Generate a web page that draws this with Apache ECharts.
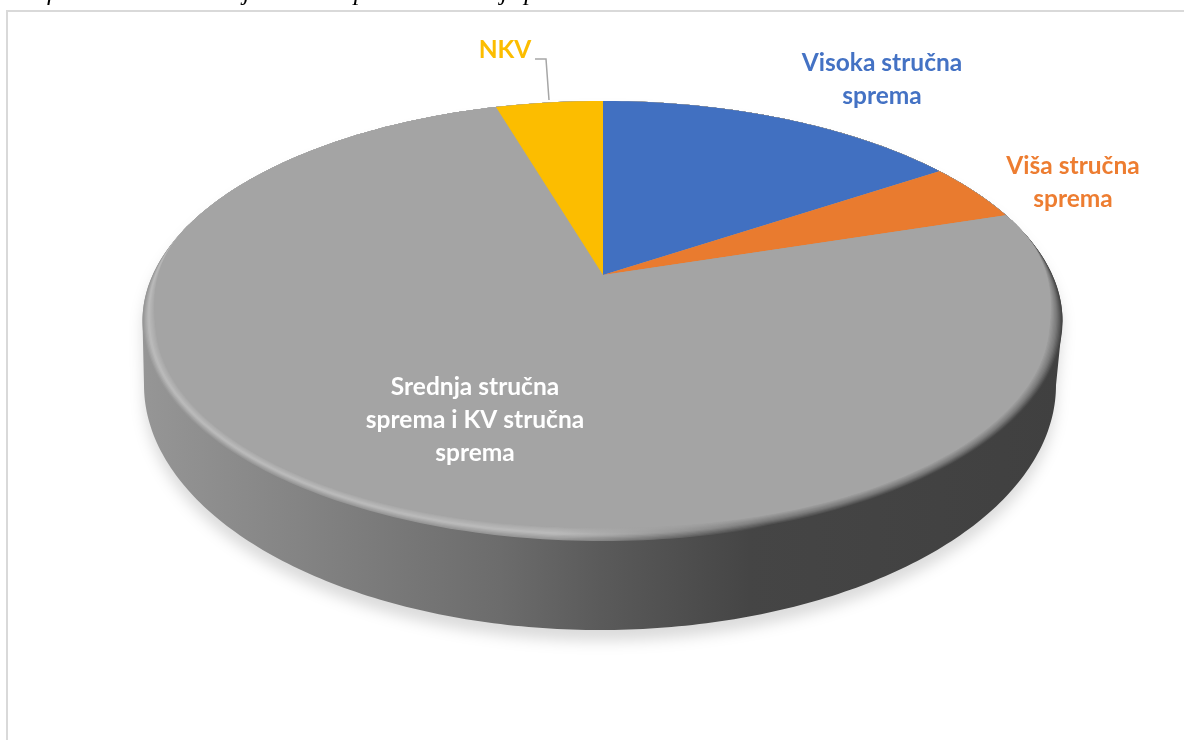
<!DOCTYPE html>
<html>
<head>
<meta charset="utf-8">
<title>Grafikon</title>
<style>
  html, body { margin: 0; padding: 0; background: #fff; }
  #chart { width: 1184px; height: 740px; }
</style>
<script src="https://cdn.jsdelivr.net/npm/echarts@6/dist/echarts.min.js"></script>
</head>
<body>
<div id="chart"></div>
<script>
// values, in percent, clockwise from 12 o'clock
var categories = ['Visoka stručna\nsprema', 'Viša stručna\nsprema', 'Srednja stručna\nsprema i KV stručna\nsprema', 'NKV'];
var shares = [15.7, 4.4, 75.3, 4.6];

var caption = 'Grafikon 1. Obrazovanje radnika prema stručnoj spremi';

var sliceColors = ['#4170c1', '#e97b2f', '#a4a4a4', '#fcbd00'];
var labelColors = ['#4472c4', '#ed7d31', '#ffffff', '#fcbd00'];
var labelSpots = [[882, 80], [1073, 183], [475, 420], [505, 50]];

// disc geometry: the tilted top face and its base, apex is off-centre because of perspective
var face = { cx: 602.5, cy: 321, a: 460, b: 220 };
var base = { cx: 600, cy: 385, a: 456, b: 245 };
var apex = [603, 275];
var tiltX = 450, tiltY = 210;
var rimDepth = 13, rimLayers = 10;

function ellipsePoint(e, ang) {
  return [e.cx + e.a * Math.cos(ang), e.cy + e.b * Math.sin(ang)];
}

function ellipsePoints(e, from, to, n) {
  var pts = [];
  for (var i = 0; i <= n; i++) pts.push(ellipsePoint(e, from + (to - from) * i / n));
  return pts;
}

// where the ray from the apex for pie angle theta meets the face edge,
// pulled inwards by d on the front part only (the bevel fades out towards the back)
function rimPoint(theta, d) {
  var e = face;
  var dx = tiltX * Math.sin(theta), dy = -tiltY * Math.cos(theta);
  var ox = (apex[0] - e.cx) / e.a, oy = (apex[1] - e.cy) / e.b;
  var vx = dx / e.a, vy = dy / e.b;
  var qa = vx * vx + vy * vy, qb = 2 * (ox * vx + oy * vy), qc = ox * ox + oy * oy - 1;
  var t = (-qb + Math.sqrt(qb * qb - 4 * qa * qc)) / (2 * qa);
  var x = apex[0] + t * dx, y = apex[1] + t * dy;
  var w = Math.min(1, Math.max(0, (y - 225) / 110));
  w = w * w * (3 - 2 * w);
  var cx = x - e.cx, cy = y - e.cy, len = Math.sqrt(cx * cx + cy * cy);
  return [x - cx / len * d * w, y - cy / len * d * w];
}

function mix(c1, c2, t) {
  var v = Math.round(c1 + (c2 - c1) * t);
  return 'rgb(' + v + ',' + v + ',' + v + ')';
}

function rimShade(t, outer, crest, inner) {
  return t < 0.45 ? mix(outer, crest, t / 0.45) : mix(crest, inner, (t - 0.45) / 0.55);
}

function hGradient(stops) {
  return { type: 'linear', x: 140, y: 0, x2: 1064, y2: 0, global: true, colorStops: stops };
}

function arcPoints(from, to, d, n) {
  var pts = [];
  for (var j = 0; j <= n; j++) pts.push(rimPoint(from + (to - from) * j / n, d));
  return pts;
}

function renderDisc() {
  var wall = ellipsePoints(base, Math.PI, 0, 200).concat(ellipsePoints(face, 0, -Math.PI, 200));
  var children = [{
    type: 'polygon',
    shape: { points: wall },
    style: {
      fill: hGradient([
        { offset: 0, color: '#969696' },
        { offset: 0.17, color: '#848484' },
        { offset: 0.39, color: '#6c6c6c' },
        { offset: 0.5, color: '#5a5a5a' },
        { offset: 0.66, color: '#454545' },
        { offset: 1, color: '#404040' }
      ]),
      shadowBlur: 14,
      shadowOffsetY: 11,
      shadowColor: 'rgba(0,0,0,0.14)'
    }
  }];
  for (var i = 0; i <= rimLayers; i++) {
    var t = i / rimLayers;
    var left = rimShade(t, 150, 188, 164);
    var right = rimShade(t, 68, 122, 164);
    children.push({
      type: 'polygon',
      shape: { points: arcPoints(0, 2 * Math.PI, rimDepth * t, 360) },
      style: {
        fill: hGradient([
          { offset: 0, color: left },
          { offset: 0.45, color: left },
          { offset: 0.68, color: right },
          { offset: 1, color: right }
        ])
      }
    });
  }
  return { type: 'group', children: children };
}

var total = shares.reduce(function(s, v) { return s + v; }, 0);

function renderSlice(params, api) {
  var i = params.dataIndex;
  var before = 0;
  for (var k = 0; k < i; k++) before += shares[k];
  var from = before / total * 2 * Math.PI;
  var to = (before + api.value(0)) / total * 2 * Math.PI;
  // the big slice stops at the inner edge of the bevel, the rest reach the outer edge
  var d = i === 2 ? rimDepth : 0;
  var n = Math.max(8, Math.round((to - from) * 60));
  return {
    type: 'polygon',
    shape: { points: [apex].concat(arcPoints(from, to, d, n)) },
    style: { fill: sliceColors[i] }
  };
}

function renderLabel(params) {
  var i = params.dataIndex;
  return {
    type: 'text',
    style: {
      text: categories[i],
      x: labelSpots[i][0],
      y: labelSpots[i][1],
      align: 'center',
      verticalAlign: 'middle',
      fontFamily: 'Lato, "Open Sans", sans-serif',
      fontWeight: 'bold',
      fontSize: 24.5,
      lineHeight: 33,
      fill: labelColors[i]
    }
  };
}

var chart = echarts.init(document.getElementById('chart'), null, { renderer: 'canvas' });

chart.setOption({
  animation: false,
  backgroundColor: '#ffffff',
  tooltip: { show: false },
  graphic: [
    {
      type: 'rect',
      silent: true,
      shape: { x: 7, y: 11, width: 1200, height: 760 },
      style: { fill: 'none', stroke: '#d9d9d9', lineWidth: 2 }
    },
    {
      type: 'text',
      silent: true,
      style: {
        text: caption,
        x: 6,
        y: -20,
        fontFamily: '"Liberation Serif", serif',
        fontStyle: 'italic',
        fontSize: 25.5,
        fill: '#000000'
      }
    },
    {
      type: 'polyline',
      silent: true,
      z: 20,
      shape: { points: [[535, 59], [546, 59], [549, 100]] },
      style: { fill: 'none', stroke: '#a6a6a6', lineWidth: 1.5 }
    }
  ],
  series: [
    { type: 'custom', coordinateSystem: 'none', data: [[1]], renderItem: renderDisc, silent: true, z: 2 },
    { type: 'custom', coordinateSystem: 'none', data: shares.map(function(v) { return [v]; }), renderItem: renderSlice, silent: true, z: 3 },
    { type: 'custom', coordinateSystem: 'none', data: shares.map(function(v) { return [v]; }), renderItem: renderLabel, silent: true, z: 4 }
  ]
});

window.addEventListener('resize', function() { chart.resize(); });
</script>
</body>
</html>
